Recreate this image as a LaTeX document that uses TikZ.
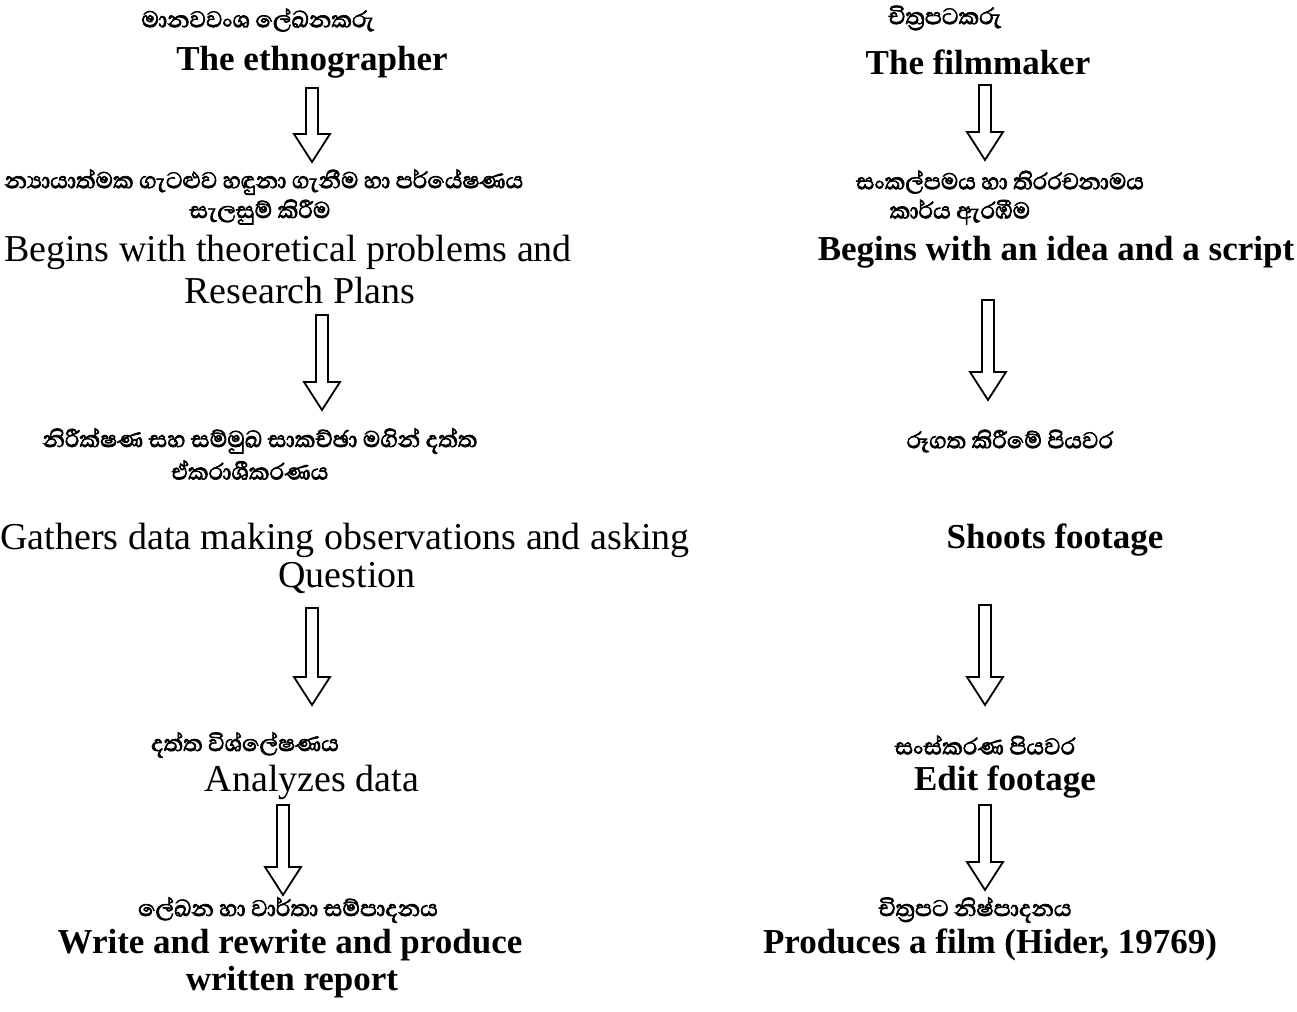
\documentclass[tikz,border=0pt]{standalone}
\usepackage{fontspec}
\setmainfont{Liberation Serif}
\newfontfamily\sinhalafont[Script=Sinhala, FakeBold=2.5]{Abhaya Libre}
\usetikzlibrary{calc}

\tikzset{
  si/.style={font=\sinhalafont\fontsize{14.5}{17}\selectfont, inner sep=0pt},
  en/.style={font=\fontsize{19}{22}\selectfont, inner sep=0pt},
  enb/.style={font=\bfseries\fontsize{17.5}{21}\selectfont, inner sep=0pt},
  hollow/.style={draw=black, line width=0.9pt, line join=miter}
}

% hollow block arrow from #1 (top of shaft) down to #2 (tip)
\newcommand{\hollowarrow}[2]{%
  \draw[hollow] ($(#1)+(-6,0)$) -- ($(#2)+(-6,28)$) -- ($(#2)+(-18,28)$) -- (#2)
    -- ($(#2)+(18,28)$) -- ($(#2)+(6,28)$) -- ($(#1)+(6,0)$) -- cycle;}

\begin{document}
\begin{tikzpicture}[x=0.5pt, y=0.5pt]

  \useasboundingbox (0,0) rectangle (1297,-1012);

  % the ethnographer
  \node[si] (eth) at (258,-20) {මානවවංශ ලේඛනකරු};
  \node[enb] (ethEn) at (312,-62) {The ethnographer};

  \node[si] (theo1) at (264,-182) {න්‍යායාත්මක ගැටළුව හඳුනා ගැනීම හා පර්යේෂණය};
  \node[si] (theo2) at (260,-212) {සැලසුම් කිරීම};
  \node[en] (theoEn1) at (288,-252) {Begins with theoretical problems and};
  \node[en] (theoEn2) at (300,-290) {Research Plans};

  \node[si] (obs1) at (260,-441) {නිරීක්ෂණ සහ සම්මුඛ සාකච්ඡා මගින් දත්ත};
  \node[si] (obs2) at (250,-470) {ඒකරාශීකරණය};
  \node[en] (obsEn1) at (345,-540) {Gathers data making observations and asking};
  \node[en] (obsEn2) at (347,-578) {Question};

  \node[si] (ana) at (245,-745) {දත්ත විශ්ලේෂණය};
  \node[en] (anaEn) at (312,-782) {Analyzes data};

  \node[si] (rep) at (288,-910) {ලේඛන හා වාර්තා සම්පාදනය};
  \node[enb] (repEn1) at (290,-945) {Write and rewrite and produce};
  \node[enb] (repEn2) at (292,-982) {written report};

  % the filmmaker
  \node[si] (film) at (945,-18) {චිත්‍රපටකරු};
  \node[enb] (filmEn) at (978,-62) {The filmmaker};

  \node[si] (idea1) at (1000,-182) {සංකල්පමය හා තිරරචනාමය};
  \node[si] (idea2) at (960,-212) {කාර්ය ඇරඹීම};
  \node[enb] (ideaEn) at (1056,-252) {Begins with an idea and a script};

  \node[si] (shoot) at (1010,-441) {රූගත කිරීමේ පියවර};
  \node[enb] (shootEn) at (1055,-540) {Shoots footage};

  \node[si] (edit) at (985,-745) {සංස්කරණ පියවර};
  \node[enb] (editEn) at (1005,-782) {Edit footage};

  \node[si] (prod) at (975,-910) {චිත්‍රපට නිෂ්පාදනය};
  \node[enb] (prodEn) at (990,-945) {Produces a film (Hider, 19769)};

  % arrow ends
  \coordinate (l1a) at (312,-88);  \coordinate (l1b) at (312,-162);
  \coordinate (l2a) at (322,-315); \coordinate (l2b) at (322,-410);
  \coordinate (l3a) at (312,-608); \coordinate (l3b) at (312,-705);
  \coordinate (l4a) at (283,-805); \coordinate (l4b) at (283,-895);
  \coordinate (r1a) at (985,-85);  \coordinate (r1b) at (985,-160);
  \coordinate (r2a) at (988,-300); \coordinate (r2b) at (988,-400);
  \coordinate (r3a) at (985,-605); \coordinate (r3b) at (985,-705);
  \coordinate (r4a) at (985,-805); \coordinate (r4b) at (985,-890);

  \foreach \s in {l1,l2,l3,l4,r1,r2,r3,r4}
    \hollowarrow{\s a}{\s b};

\end{tikzpicture}
\end{document}
